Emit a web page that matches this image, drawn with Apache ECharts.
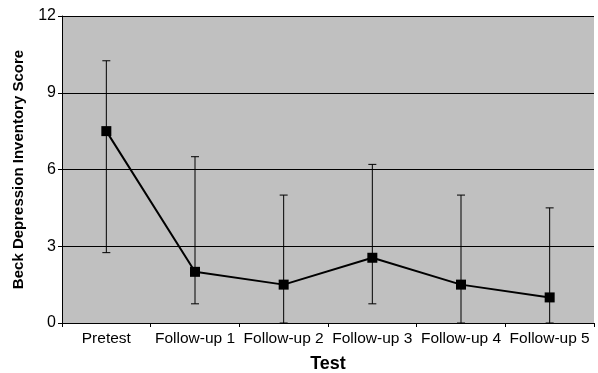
<!DOCTYPE html>
<html>
<head>
<meta charset="utf-8">
<script src="https://cdn.jsdelivr.net/npm/echarts@6/dist/echarts.min.js"></script>
<style>
html,body{margin:0;padding:0;background:#fff;}
#chart{width:598px;height:373px;}
</style>
</head>
<body>
<div id="chart"></div>
<script>
// Beck Depression Inventory scores across test sessions
const categories = ['Pretest', 'Follow-up 1', 'Follow-up 2', 'Follow-up 3', 'Follow-up 4', 'Follow-up 5'];
const meanScores = [7.5, 2.0, 1.5, 2.55, 1.5, 1.0];
const errorLow = [2.75, 0.75, 0, 0.75, 0, 0];
const errorHigh = [10.25, 6.5, 5.0, 6.2, 5.0, 4.5];
const yTicks = [0, 3, 6, 9, 12];

const chart = echarts.init(document.getElementById('chart'), null, {renderer: 'canvas'});
const font = '"Liberation Sans", Arial, sans-serif';

const errorData = categories.map((c, i) => [i, errorLow[i], errorHigh[i]]);

chart.setOption({
  animation: false,
  grid: {
    left: 62, right: 4, top: 16, bottom: 50,
    containLabel: false, outerBoundsMode: 'none',
    backgroundColor: '#c0c0c0', show: true, borderWidth: 0
  },
  xAxis: {
    type: 'category',
    data: categories,
    boundaryGap: true,
    name: 'Test',
    nameLocation: 'middle',
    nameGap: 32,
    nameTextStyle: {fontFamily: font, fontWeight: 'bold', fontSize: 18, color: '#000'},
    axisLine: {lineStyle: {color: '#000', width: 1}},
    axisTick: {show: true, length: 4, lineStyle: {color: '#000'}},
    axisLabel: {fontFamily: font, fontSize: 15.5, color: '#000', margin: 8, interval: 0},
    splitLine: {show: false}
  },
  yAxis: {
    type: 'value',
    min: yTicks[0],
    max: yTicks[yTicks.length - 1],
    interval: 3,
    name: 'Beck Depression Inventory Score',
    nameLocation: 'middle',
    nameGap: 36,
    nameTextStyle: {fontFamily: font, fontWeight: 'bold', fontSize: 15, color: '#000'},
    axisLine: {show: true, lineStyle: {color: '#000', width: 1}},
    axisTick: {show: true, length: 4, lineStyle: {color: '#000'}},
    axisLabel: {fontFamily: font, fontSize: 16, color: '#000', margin: 6},
    splitLine: {show: true, lineStyle: {color: '#000', width: 1}}
  },
  series: [
    {
      type: 'custom',
      data: errorData,
      z: 3,
      renderItem: function (params, api) {
        const x = api.value(0);
        const lo = api.coord([x, api.value(1)]);
        const hi = api.coord([x, api.value(2)]);
        const cap = 4;
        const style = {stroke: '#000', lineWidth: 1};
        return {
          type: 'group',
          children: [
            {type: 'line', shape: {x1: lo[0], y1: lo[1], x2: hi[0], y2: hi[1]}, style: style},
            {type: 'line', shape: {x1: hi[0] - cap, y1: hi[1], x2: hi[0] + cap, y2: hi[1]}, style: style},
            {type: 'line', shape: {x1: lo[0] - cap, y1: lo[1], x2: lo[0] + cap, y2: lo[1]}, style: style}
          ]
        };
      }
    },
    {
      type: 'line',
      data: meanScores,
      z: 4,
      symbol: 'rect',
      symbolSize: 10,
      itemStyle: {color: '#000'},
      lineStyle: {color: '#000', width: 2}
    }
  ]
});
</script>
</body>
</html>
